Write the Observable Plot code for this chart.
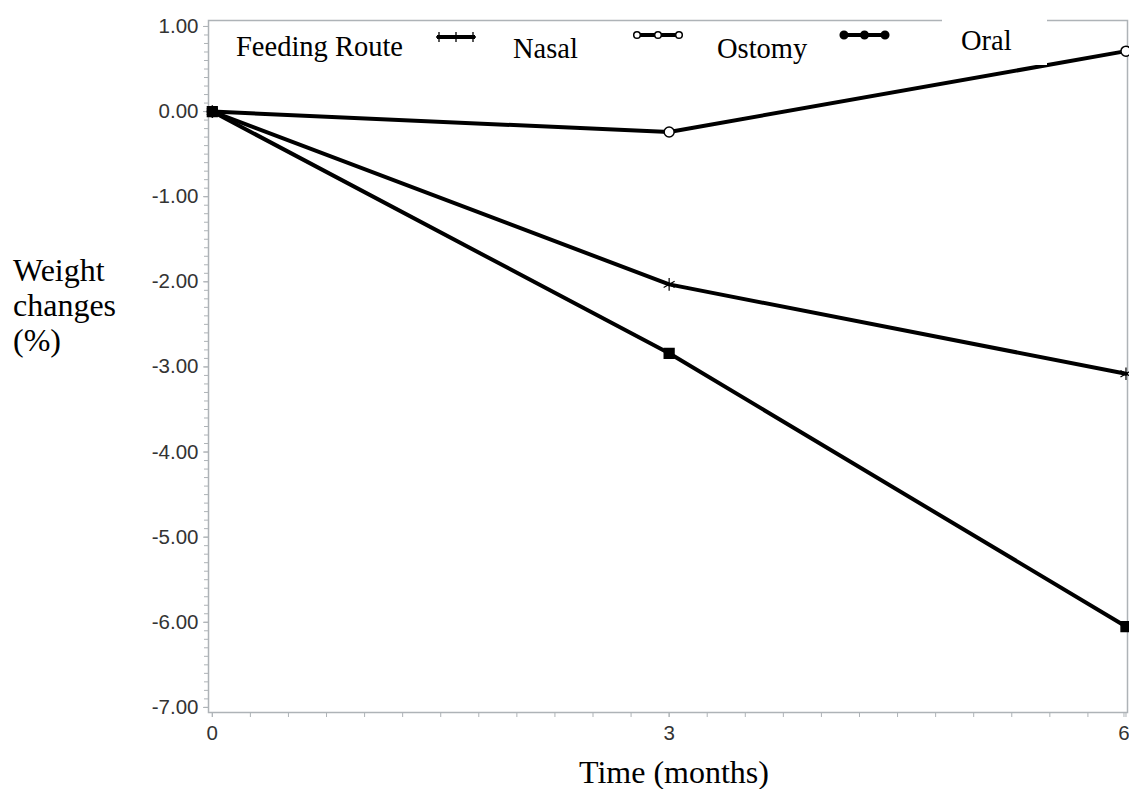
<!DOCTYPE html>
<html>
<head>
<meta charset="utf-8">
<script src="https://cdn.jsdelivr.net/npm/d3@7"></script>
<script src="https://cdn.jsdelivr.net/npm/@observablehq/plot@0.6"></script>
<style>
  html, body { margin: 0; padding: 0; background: #fff; }
  #wrap { position: relative; width: 1129px; height: 789px; overflow: hidden; }
  #wrap svg { position: absolute; left: 0; top: 0; }
  .serif { position: absolute; font-family: "Liberation Serif", "Times New Roman", serif; font-size: 28.5px; line-height: 28px; color: #000; white-space: nowrap; }
  .sym { position: absolute; }
</style>
</head>
<body>
<div id="wrap"></div>
<script>
// ---- data ----
const months = [0, 3, 6];
const routes = ["Nasal", "Ostomy", "Oral"];
const nasal  = [0, -2.03, -3.08];
const ostomy = [0, -0.24, 0.71];
const oral   = [0, -2.84, -6.05];
const yTickValues = [1, 0, -1, -2, -3, -4, -5, -6, -7];
const xTickLabels = [0, 3];
const xLastLabel = [6];

const series = {Nasal: nasal, Ostomy: ostomy, Oral: oral};
const rows = routes.flatMap(r => months.map((m, i) => ({route: r, month: m, value: series[r][i]})));

const yMinor = d3.range(-70, 11).map(v => v / 10);
const xMinor = d3.range(0, 25).map(v => v / 4);

const grey = "#aeb3b7";
const textCol = "#333";

const chart = Plot.plot({
  width: 1129,
  height: 789,
  marginLeft: 208,
  marginRight: 2,
  marginTop: 20,
  marginBottom: 77,
  style: {fontFamily: "'Liberation Sans', Arial, sans-serif", fontSize: "20.5px", background: "transparent"},
  x: {domain: [-0.025, 6.01]},
  y: {domain: [-7.06, 1.07]},
  marks: [
    Plot.frame({stroke: grey, strokeWidth: 1.5}),
    Plot.axisY(yMinor, {tickSize: 4, text: null, stroke: grey, label: null}),
    Plot.axisY(yTickValues, {tickSize: 5, tickPadding: 5, tickFormat: d => d.toFixed(2), stroke: grey, fill: textCol, fontSize: 20.5, label: null}),
    Plot.axisX(xMinor, {tickSize: 5, text: null, stroke: grey, label: null}),
    Plot.axisX(xTickLabels, {tickSize: 5, tickPadding: 8, tickFormat: d => String(d), stroke: grey, fill: textCol, fontSize: 20.5, label: null}),
    Plot.axisX(xLastLabel, {tickSize: 5, tickPadding: 8, tickFormat: d => String(d), stroke: grey, fill: textCol, fontSize: 20.5, dx: -2, label: null}),
    Plot.line(rows, {x: "month", y: "value", z: "route", stroke: "#000", strokeWidth: 4}),
    Plot.dot(rows.filter(d => d.route === "Nasal"), {x: "month", y: "value", symbol: "asterisk", r: 6, stroke: "#000", strokeWidth: 1.2}),
    Plot.dot(rows.filter(d => d.route === "Ostomy"), {x: "month", y: "value", symbol: "circle", r: 5, fill: "#fff", stroke: "#000", strokeWidth: 1.5}),
    Plot.dot(rows.filter(d => d.route === "Oral"), {x: "month", y: "value", symbol: "square", r: 5.5, fill: "#000", stroke: "#000"})
  ]
});

const wrap = document.getElementById("wrap");
wrap.appendChild(chart);

function addText(txt, left, top, extra) {
  const d = document.createElement("div");
  d.className = "serif";
  d.textContent = txt;
  d.style.left = left + "px";
  d.style.top = top + "px";
  if (extra) Object.assign(d.style, extra);
  wrap.appendChild(d);
  return d;
}

function addSymbol(kind, left, top, w) {
  const ns = "http://www.w3.org/2000/svg";
  const s = document.createElementNS(ns, "svg");
  s.setAttribute("width", w + 6);
  s.setAttribute("height", 14);
  s.setAttribute("class", "sym");
  s.style.left = (left - 3) + "px";
  s.style.top = top + "px";
  const ln = document.createElementNS(ns, "line");
  ln.setAttribute("x1", 3); ln.setAttribute("x2", w + 3);
  ln.setAttribute("y1", 7); ln.setAttribute("y2", 7);
  ln.setAttribute("stroke", "#000"); ln.setAttribute("stroke-width", 4);
  s.appendChild(ln);
  [5, 3 + w / 2, w + 1].forEach(cx => {
    if (kind === "Nasal") {
      const p = document.createElementNS(ns, "path");
      p.setAttribute("d", `M${cx},2V12M${cx-3},7H${cx+3}`);
      p.setAttribute("stroke", "#000"); p.setAttribute("stroke-width", 1.3);
      s.appendChild(p);
    } else {
      const c = document.createElementNS(ns, "circle");
      c.setAttribute("cx", cx); c.setAttribute("cy", 7);
      c.setAttribute("r", kind === "Ostomy" ? 3.3 : 3.8);
      c.setAttribute("fill", kind === "Ostomy" ? "#fff" : "#000");
      c.setAttribute("stroke", "#000"); c.setAttribute("stroke-width", 1.5);
      s.appendChild(c);
    }
  });
  wrap.appendChild(s);
}

// legend
addText("Feeding Route", 236, 32.6);
addSymbol("Nasal", 437, 30, 38);
addText("Nasal", 513, 34.6);
addSymbol("Ostomy", 635, 28, 46);
addText("Ostomy", 717, 34.6);
addSymbol("Oral", 842, 28, 45);
const oralBox = document.createElement("div");
oralBox.style.cssText = "position:absolute;left:942px;top:10px;width:105px;height:55px;background:#fff;";
wrap.appendChild(oralBox);
addText("Oral", 961, 26.6);

// axis titles
addText("Weight\nchanges\n(%)", 13, 252.7, {whiteSpace: "pre", lineHeight: "35px", fontSize: "32px"});
addText("Time (months)", 674, 756, {transform: "translateX(-50%)", fontSize: "32px", lineHeight: "32px"});
</script>
</body>
</html>
